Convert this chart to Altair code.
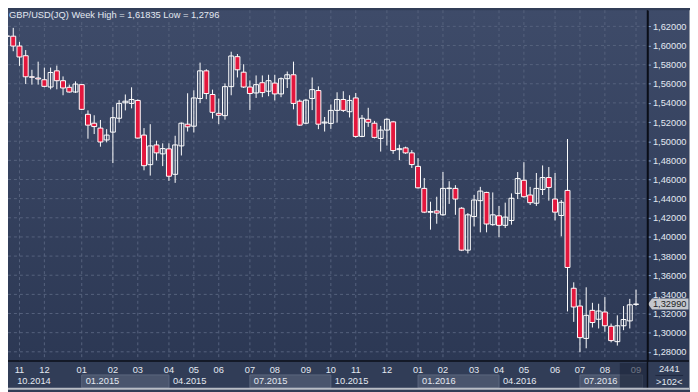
import altair as alt
import pandas as pd

# ---------------- data ----------------
title_text = "GBP/USD(JQ) Week High = 1,61835 Low = 1,2796"

open_ = [1.6100, 1.6097, 1.5994, 1.5893, 1.5673, 1.5660, 1.5642, 1.5566, 1.5735, 1.5632,
         1.5563, 1.5514, 1.5591, 1.5281, 1.5188, 1.5137, 1.5013, 1.5095, 1.5240, 1.5401,
         1.5395, 1.5426, 1.5064, 1.4755, 1.4961, 1.4868, 1.4920, 1.4654, 1.4951, 1.5178,
         1.5157, 1.5446, 1.5735, 1.5488, 1.5291, 1.5267, 1.5570, 1.5883, 1.5721, 1.5566,
         1.5504, 1.5611, 1.5522, 1.5607, 1.5494, 1.5653, 1.5694, 1.5418, 1.5188, 1.5446,
         1.5529, 1.5190, 1.5186, 1.5322, 1.5436, 1.5308, 1.5452, 1.5050, 1.5229, 1.5188,
         1.5029, 1.5116, 1.5202, 1.4912, 1.4930, 1.4878, 1.4737, 1.4507, 1.4258, 1.4272,
         1.4231, 1.4505, 1.4507, 1.4300, 1.3862, 1.4213, 1.4379, 1.4465, 1.4128, 1.4221,
         1.4121, 1.4172, 1.4455, 1.4592, 1.4438, 1.4352, 1.4496, 1.4620, 1.4396, 1.4224,
         1.4486, 1.3464, 1.3278, 1.2940, 1.3233, 1.3140, 1.3216, 1.3067, 1.2906, 1.3072,
         1.3123, 1.3295]
high = [1.6112, 1.6184, 1.6038, 1.5952, 1.5746, 1.5831, 1.5769, 1.5769, 1.5790, 1.5677,
        1.5591, 1.5625, 1.5597, 1.5322, 1.5271, 1.5222, 1.5126, 1.5356, 1.5429, 1.5488,
        1.5563, 1.5436, 1.5137, 1.5178, 1.5005, 1.4978, 1.4978, 1.5057, 1.5195, 1.5501,
        1.5532, 1.5821, 1.5752, 1.5539, 1.5446, 1.5604, 1.5935, 1.5911, 1.5804, 1.5635,
        1.5687, 1.5687, 1.5694, 1.5694, 1.5666, 1.5728, 1.5831, 1.5436, 1.5442, 1.5666,
        1.5573, 1.5253, 1.5384, 1.5511, 1.5522, 1.5480, 1.5504, 1.5274, 1.5349, 1.5212,
        1.5160, 1.5240, 1.5212, 1.4964, 1.4943, 1.4907, 1.4823, 1.4616, 1.4368, 1.4420,
        1.4678, 1.4582, 1.4541, 1.4311, 1.4249, 1.4438, 1.4523, 1.4472, 1.4465, 1.4324,
        1.4358, 1.4455, 1.4678, 1.4781, 1.4523, 1.4668, 1.4747, 1.4730, 1.4668, 1.4386,
        1.5023, 1.3526, 1.3346, 1.3474, 1.3312, 1.3302, 1.3371, 1.3095, 1.3181, 1.3278,
        1.3353, 1.3449]
low = [1.6084, 1.5940, 1.5787, 1.5597, 1.5591, 1.5591, 1.5563, 1.5542, 1.5542, 1.5480,
       1.5508, 1.5504, 1.5325, 1.5026, 1.5075, 1.4943, 1.4988, 1.4771, 1.5194, 1.5322,
       1.5343, 1.5028, 1.4696, 1.4641, 1.4799, 1.4740, 1.4585, 1.4565, 1.4851, 1.5101,
       1.5091, 1.5398, 1.5439, 1.5236, 1.5178, 1.5225, 1.5480, 1.5666, 1.5556, 1.5325,
       1.5452, 1.5460, 1.5470, 1.5426, 1.5460, 1.5556, 1.5333, 1.5160, 1.5178, 1.5325,
       1.5126, 1.5101, 1.5129, 1.5194, 1.5305, 1.5248, 1.5036, 1.5042, 1.5150, 1.5029,
       1.4892, 1.4954, 1.4868, 1.4802, 1.4868, 1.4721, 1.4507, 1.4249, 1.4076, 1.4138,
       1.4221, 1.4345, 1.4231, 1.3852, 1.3828, 1.4110, 1.4048, 1.4048, 1.4117, 1.3997,
       1.4094, 1.4128, 1.4396, 1.4410, 1.4334, 1.4324, 1.4438, 1.4379, 1.4172, 1.4007,
       1.3222, 1.3113, 1.2796, 1.2837, 1.3054, 1.3044, 1.3010, 1.2899, 1.2865, 1.3026,
       1.3044, 1.3278]
close = [1.6095, 1.5994, 1.5880, 1.5673, 1.5668, 1.5650, 1.5573, 1.5718, 1.5632, 1.5556,
         1.5514, 1.5597, 1.5333, 1.5168, 1.5153, 1.4992, 1.5064, 1.5246, 1.5395, 1.5418,
         1.5436, 1.5033, 1.4744, 1.4951, 1.4878, 1.4923, 1.4634, 1.4961, 1.5188, 1.5150,
         1.5452, 1.5735, 1.5498, 1.5302, 1.5271, 1.5570, 1.5890, 1.5746, 1.5566, 1.5498,
         1.5591, 1.5508, 1.5632, 1.5494, 1.5653, 1.5694, 1.5395, 1.5168, 1.5429, 1.5539,
         1.5178, 1.5200, 1.5322, 1.5436, 1.5322, 1.5426, 1.5050, 1.5240, 1.5198, 1.5040,
         1.5116, 1.5229, 1.4902, 1.4922, 1.4878, 1.4756, 1.4513, 1.4259, 1.4265, 1.4249,
         1.4507, 1.4510, 1.4396, 1.3862, 1.4231, 1.4386, 1.4479, 1.4135, 1.4231, 1.4121,
         1.4207, 1.4404, 1.4610, 1.4420, 1.4358, 1.4507, 1.4620, 1.4517, 1.4259, 1.4362,
         1.3681, 1.3268, 1.2948, 1.3181, 1.3106, 1.3226, 1.3072, 1.2917, 1.3072, 1.3137,
         1.3291, 1.3299]

y_ticks = [1.28, 1.30, 1.32, 1.34, 1.36, 1.38, 1.40, 1.42, 1.44, 1.46, 1.48,
           1.50, 1.52, 1.54, 1.56, 1.58, 1.60, 1.62]

month_labels = ["11", "12", "01", "02", "03", "04", "05", "06", "07", "08", "09", "10",
                "11", "12", "01", "02", "03", "04", "05", "06", "07", "08", "09"]
month_index = [2, 6, 12, 17, 21, 26, 30, 34, 39, 43, 48, 52,
               56, 61, 66, 70, 75, 79, 83, 88, 92, 96, 101]

quarter_labels = ["10.2014", "01.2015", "04.2015", "07.2015", "10.2015", "01.2016", "04.2016", "07.2016"]
quarter_start = [1, 12, 26, 39, 52, 66, 79, 92]
quarter_end = [12, 26, 39, 52, 66, 79, 92, 102.05]
quarter_shaded = [False, True, False, True, False, True, False, True]

corner_top = "2441"

# ---------------- tables ----------------
candles = pd.DataFrame({
    "i": list(range(len(close))),
    "open": open_, "high": high, "low": low, "close": close,
})
candles["dir"] = ["up" if c >= o else "down" for o, c in zip(open_, close)]

months = pd.DataFrame({"idx": month_index, "label": month_labels})
quarters = pd.DataFrame({"qs": quarter_start, "qe": quarter_end,
                         "label": quarter_labels, "shaded": quarter_shaded})
ticks = pd.DataFrame({"v": y_ticks})
last = pd.DataFrame({"close": [close[-1]],
                     "label": [f"{close[-1]:.5f}".replace(".", ",")]})
one = pd.DataFrame({"a": [0]})

# ---------------- layout ----------------
W, H = 647, 355
TOTAL_W, TOTAL_H = 690, 384
FONT = "Liberation Sans"
TXT = "#e3e8f1"

xscale = alt.Scale(domain=[0.953, 102.05], nice=False, zero=False)
yscale = alt.Scale(domain=[1.27029, 1.63683], nice=False, zero=False)
yaxis = alt.Axis(orient="right", values=y_ticks,
                 labelExpr="replace(format(datum.value, '.5f'), '.', ',')",
                 grid=False, tickSize=3, tickColor="#86a6d6", domainColor="#0b0f18",
                 domainWidth=1.5,
                 labelColor=TXT, labelFont=FONT, labelFontSize=9.4, labelPadding=2,
                 title=None, zindex=1)

grad = alt.LinearGradient(gradient="linear",
                          stops=[alt.GradientStop(color="#3e4b69", offset=0),
                                 alt.GradientStop(color="#2c3854", offset=1)],
                          x1=0, x2=0, y1=0, y2=1)

bg = alt.Chart(one).mark_rect(color=grad).encode(
    x=alt.value(0), x2=alt.value(TOTAL_W), y=alt.value(0), y2=alt.value(H))

bottom_strip = alt.Chart(one).mark_rect(color="#313d57").encode(
    x=alt.value(0), x2=alt.value(TOTAL_W), y=alt.value(H), y2=alt.value(TOTAL_H))

qboxes = alt.Chart(quarters).transform_filter("datum.shaded").mark_rect(
    color="#4a556d", stroke="#5c6780", strokeWidth=1).encode(
    x=alt.X("qs:Q", scale=xscale, axis=None), x2="qe:Q",
    y=alt.value(369), y2=alt.value(382))

vgrid = alt.Chart(months).mark_rule(color="#56627d", strokeDash=[3, 3], strokeWidth=1).encode(
    x=alt.X("idx:Q", scale=xscale, axis=None), y=alt.value(0), y2=alt.value(H))

hgrid = alt.Chart(ticks).mark_rule(color="#56627d", strokeDash=[3, 3], strokeWidth=1).encode(
    y=alt.Y("v:Q", scale=yscale, axis=yaxis), x=alt.value(0), x2=alt.value(W))

wicks = alt.Chart(candles).mark_rule(color="white", strokeWidth=1, clip=True).encode(
    x=alt.X("i:Q", scale=xscale, axis=None),
    y=alt.Y("low:Q", scale=yscale, axis=yaxis), y2="high:Q")

bodies = alt.Chart(candles).mark_bar(size=5, stroke="white", strokeWidth=1,
                                     color="#e3173d", clip=True).encode(
    x=alt.X("i:Q", scale=xscale, axis=None),
    y=alt.Y("open:Q", scale=yscale, axis=yaxis), y2="close:Q",
    fillOpacity=alt.condition("datum.dir == 'up'", alt.value(0), alt.value(1)))

title = alt.Chart(one).mark_text(text=title_text, align="left", baseline="top",
                                 font=FONT, fontSize=9.4, color=TXT).encode(
    x=alt.value(1), y=alt.value(1))

mlabels = alt.Chart(months).mark_text(align="center", baseline="middle",
                                      font=FONT, fontSize=9.4, color=TXT).encode(
    x=alt.X("idx:Q", scale=xscale, axis=None), y=alt.value(364), text="label:N")

qlabels = alt.Chart(quarters).mark_text(align="left", baseline="middle", dx=4,
                                        font=FONT, fontSize=9.4, color=TXT).encode(
    x=alt.X("qs:Q", scale=xscale, axis=None), y=alt.value(375.5), text="label:N")

overlay = alt.Chart(one).mark_rect(color="#1c2439", opacity=0.6).encode(
    x=alt.value(619), x2=alt.value(W), y=alt.value(357), y2=alt.value(382))

hline = alt.Chart(one).mark_rule(color="#0b0f18", strokeWidth=1.5).encode(
    x=alt.value(0), x2=alt.value(TOTAL_W), y=alt.value(H))
vline = alt.Chart(one).mark_rule(color="#0b0f18", strokeWidth=1.5).encode(
    x=alt.value(W), y=alt.value(0), y2=alt.value(TOTAL_H))

edge_bottom = alt.Chart(one).mark_rect(color="#b9bdc5").encode(
    x=alt.value(0), x2=alt.value(TOTAL_W), y=alt.value(TOTAL_H - 2), y2=alt.value(TOTAL_H))
edge_right = alt.Chart(one).mark_rect(color="#9aa0ab").encode(
    x=alt.value(TOTAL_W - 1), x2=alt.value(TOTAL_W), y=alt.value(0), y2=alt.value(TOTAL_H))

corner1 = alt.Chart(one).mark_text(text=corner_top, align="center", baseline="middle",
                                   font=FONT, fontSize=9.4, color=TXT).encode(
    x=alt.value(669), y=alt.value(363))
corner2 = alt.Chart(one).mark_text(text=f">{len(close)}<", align="center", baseline="middle",
                                   font=FONT, fontSize=9.4, color=TXT).encode(
    x=alt.value(669), y=alt.value(376))
corner_sep = alt.Chart(one).mark_rule(color="#1f2840", strokeWidth=1).encode(
    x=alt.value(655), x2=alt.value(683), y=alt.value(369.5))

tag_shape = "M-1,0 L-0.8,-0.27 L1,-0.27 L1,0.27 L-0.8,0.27 Z"
tag = alt.Chart(last).mark_point(shape=tag_shape, size=1681, filled=True, opacity=1,
                                 color="#c4c7cd", strokeWidth=0).encode(
    x=alt.value(668), y=alt.Y("close:Q", scale=yscale, axis=yaxis))
tag_text = alt.Chart(last).mark_text(align="left", baseline="middle", font=FONT,
                                     fontSize=9.4, color="#1b1d22").encode(
    x=alt.value(652.5), y=alt.Y("close:Q", scale=yscale, axis=yaxis), text="label:N")

chart = alt.layer(
    bg, bottom_strip, qboxes, vgrid, hgrid, wicks, bodies, title,
    mlabels, qlabels, overlay, hline, vline, corner_sep, corner1, corner2,
    edge_bottom, edge_right, tag, tag_text,
).properties(
    width=W, height=H,
    autosize=alt.AutoSizeParams(type="none"),
    padding={"left": 0, "top": 0, "right": TOTAL_W - W, "bottom": TOTAL_H - H},
).configure(background="#313d57").configure_view(stroke=None)

chart.save("out.html", embed_options={"renderer": "svg", "actions": False})
